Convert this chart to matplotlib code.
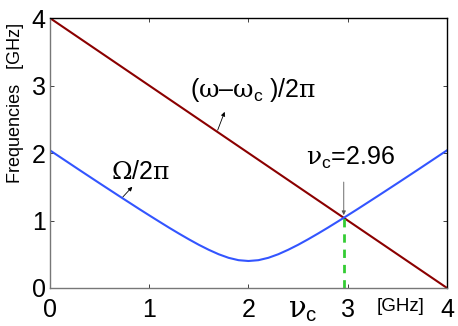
import matplotlib
matplotlib.use("Agg")
import matplotlib.pyplot as plt

plt.rcParams['font.family'] = ['Liberation Sans', 'DejaVu Sans']
plt.rcParams['mathtext.fontset'] = 'custom'
plt.rcParams['mathtext.rm'] = 'Liberation Sans'
plt.rcParams['mathtext.it'] = 'Liberation Sans'
plt.rcParams['mathtext.sf'] = 'DejaVu Serif'

# detuning frequency axis [GHz]
nu = [0.0, 0.1, 0.2, 0.3, 0.4, 0.5, 0.6, 0.7, 0.8, 0.9, 1.0,
      1.1, 1.2, 1.3, 1.4, 1.5, 1.6, 1.7, 1.8, 1.9, 2.0,
      2.1, 2.2, 2.3, 2.4, 2.5, 2.6, 2.7, 2.8, 2.9, 3.0,
      3.1, 3.2, 3.3, 3.4, 3.5, 3.6, 3.7, 3.8, 3.9, 4.0]
# Omega/2pi
omega = [2.040, 1.942, 1.844, 1.746, 1.649, 1.552, 1.456, 1.360, 1.265, 1.170, 1.077,
         0.985, 0.894, 0.806, 0.721, 0.640, 0.566, 0.500, 0.447, 0.412, 0.400,
         0.412, 0.447, 0.500, 0.566, 0.640, 0.721, 0.806, 0.894, 0.985, 1.077,
         1.170, 1.265, 1.360, 1.456, 1.552, 1.649, 1.746, 1.844, 1.942, 2.040]
# (omega - omega_c)/2pi, straight line
line_x = [0, 4]
line_y = [4, 0]
nu_c = 2.96
f_c = 1.04

xticks = [0, 1, 2, 3, 4]
yticks = [0, 1, 2, 3, 4]

fig = plt.figure(figsize=(4.58, 3.26), dpi=100)
ax = fig.add_axes([0.109, 0.1166, 0.867, 0.828])

ax.plot(line_x, line_y, color='#8b0000', lw=1.5)
ax.plot(nu, omega, color='#3355ff', lw=1.5)
ax.plot([nu_c, nu_c], [0, f_c], color='#33cc33', lw=2, ls=(0, (3, 2.5)))

ax.set_xlim(0, 4)
ax.set_ylim(0, 4)
ax.set_xticks(xticks)
ax.set_yticks(yticks)
ax.set_xticklabels([str(t) for t in xticks])
ax.set_yticklabels([str(t) for t in yticks])
ax.tick_params(direction='in', length=3, width=0.6, labelsize=18,
               top=True, right=True, colors='#222222')
ax.tick_params(axis='x', pad=7)
ax.tick_params(axis='y', pad=3)
ax.tick_params(axis='both', labelcolor='black')
for s in ['left', 'bottom']:
    ax.spines[s].set_color('#777777')
for s in ax.spines.values():
    s.set_linewidth(1.0)

# y label placed off-centre as in the original
fig.text(0.033, 0.685, 'Frequencies   [GHz]', rotation=90, fontsize=13,
         ha='center', va='center')

# extra x-axis labels
ax.text(2.55, -0.12, r'$\mathsf{\nu}_{\mathrm{c}}$', fontsize=21,
        ha='center', va='top')
ax.text(3.53, -0.15, '[GHz]', fontsize=13.5, ha='center', va='top')

# curve annotations
ax.text(1.41, 2.83,
        r'($\mathsf{\omega}$–$\mathsf{\omega}_{\mathrm{c}}$ )/2$\mathsf{\pi}$',
        fontsize=18, ha='left', va='baseline')
ax.annotate('', xy=(1.76, 2.61), xytext=(1.69, 2.34),
            arrowprops=dict(arrowstyle='-|>', color='black', lw=0.6,
                            mutation_scale=6, shrinkA=0, shrinkB=0))
ax.text(0.62, 1.61, r'$\mathsf{\Omega}$/2$\mathsf{\pi}$', fontsize=18,
        ha='left', va='baseline')
ax.annotate('', xy=(0.83, 1.50), xytext=(0.735, 1.35),
            arrowprops=dict(arrowstyle='-|>', color='black', lw=0.6,
                            mutation_scale=6, shrinkA=0, shrinkB=0))
ax.text(2.58, 1.82, r'$\mathsf{\nu}_{\mathrm{c}}$=2.96', fontsize=18,
        ha='left', va='baseline')
ax.annotate('', xy=(nu_c, 1.08), xytext=(nu_c, 1.57),
            arrowprops=dict(arrowstyle='-|>', color='#555555', lw=0.6,
                            mutation_scale=6, shrinkA=0, shrinkB=0))

fig.savefig('out.png', dpi=100)
